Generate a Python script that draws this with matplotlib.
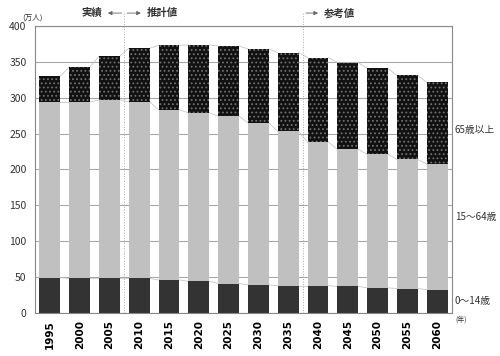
import numpy as np
import matplotlib
matplotlib.use("Agg")
import matplotlib.pyplot as plt

plt.rcParams['font.family'] = ['Noto Sans CJK JP', 'DejaVu Sans']
plt.rcParams['hatch.linewidth'] = 0.8

years = ["1995", "2000", "2005", "2010", "2015", "2020", "2025",
         "2030", "2035", "2040", "2045", "2050", "2055", "2060"]
young = [49, 48, 48, 48, 46, 44, 41, 39, 38, 38, 37, 35, 34, 32.5]
working = [245, 246, 249, 246.5, 237, 235, 233.5, 226, 215, 200, 191, 186, 180, 175]
elderly = [36, 49, 61, 74.5, 90, 94.5, 97.5, 103, 110, 118, 121, 120, 117, 114]

x = np.arange(len(years))
w = 0.7
young = np.array(young)
working = np.array(working)
elderly = np.array(elderly)

fig = plt.figure(figsize=(5, 3.56), dpi=100)
ax = fig.add_axes([0.07, 0.121, 0.834, 0.806])

ax.set_axisbelow(True)
ax.grid(axis='y', color='#a8a8a8', linewidth=0.8)

ax.bar(x, young, w, color='#333333', linewidth=0, zorder=2)
ax.bar(x, working, w, bottom=young, color='#c0c0c0', linewidth=0, zorder=2)
ax.bar(x, elderly, w, bottom=young + working, color='#111111',
       edgecolor='#707070', hatch='....', linewidth=0, zorder=2)

# thin connector lines between neighbouring bars
for level in (young, young + working, young + working + elderly):
    for i in range(len(x) - 1):
        ax.plot([x[i] + w / 2, x[i + 1] - w / 2], [level[i], level[i + 1]],
                color='#c8c8c8', linewidth=0.6, zorder=1)

ax.set_xlim(-0.5, len(x) - 0.5)
ax.set_ylim(0, 400)
ax.set_yticks(range(0, 401, 50))
ax.set_xticks(x)
ax.set_xticklabels(years, rotation=90, fontsize=7.5, fontweight='bold',
                   family='DejaVu Sans')
ax.tick_params(axis='y', labelsize=7.5, length=0, pad=6, labelcolor='#333333')
ax.tick_params(axis='x', length=0, pad=5)
for s in ax.spines.values():
    s.set_color('#888888')
    s.set_linewidth(0.8)

# dividers between actual / estimated / reference values
for xd in (2.5, 8.5):
    ax.plot([xd, xd], [0, 418], color='#aaaaaa', linewidth=0.7,
            linestyle=':', clip_on=False, zorder=1)

ax.annotate('', xy=(1.85, 418), xytext=(2.5, 418),
            arrowprops=dict(arrowstyle='-|>', color='#666666', lw=0.6,
                            mutation_scale=6), annotation_clip=False)
ax.annotate('', xy=(3.15, 418), xytext=(2.5, 418),
            arrowprops=dict(arrowstyle='-|>', color='#666666', lw=0.6,
                            mutation_scale=6), annotation_clip=False)
ax.annotate('', xy=(9.1, 418), xytext=(8.5, 418),
            arrowprops=dict(arrowstyle='-|>', color='#666666', lw=0.6,
                            mutation_scale=6), annotation_clip=False)
ax.text(1.75, 418, '実績', ha='right', va='center', fontsize=7.5,
        fontweight='bold', color='#333333')
ax.text(3.25, 418, '推計値', ha='left', va='center', fontsize=7.5,
        fontweight='bold', color='#333333')
ax.text(9.2, 418, '参考値', ha='left', va='center', fontsize=7.5,
        fontweight='bold', color='#333333')

ax.text(-0.6, 412, '(万人)', ha='center', va='center', fontsize=5.5,
        color='#333333')
ax.text(13.6, -4, '(年)', ha='left', va='top', fontsize=5, color='#333333')

ax.text(13.6, 255, '65歳以上', ha='left', va='center', fontsize=7, color='#333333')
ax.text(13.6, 134, '15〜64歳', ha='left', va='center', fontsize=7, color='#333333')
ax.text(13.6, 16, '0〜14歳', ha='left', va='center', fontsize=7, color='#333333')

fig.savefig('out.png', dpi=100)
